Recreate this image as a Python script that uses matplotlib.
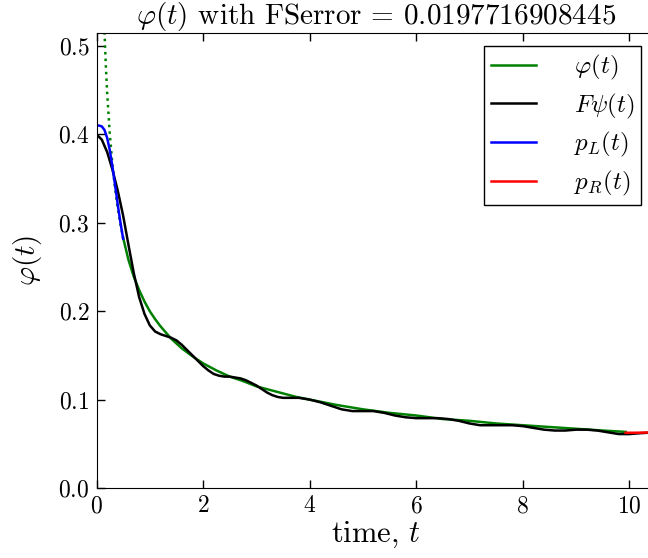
import matplotlib
matplotlib.use("Agg")
import matplotlib.pyplot as plt

plt.rcParams['font.family'] = 'serif'
plt.rcParams['font.serif'] = ['cmr10']
plt.rcParams['mathtext.fontset'] = 'cm'
plt.rcParams['axes.formatter.use_mathtext'] = True
plt.rcParams['xtick.direction'] = 'in'
plt.rcParams['ytick.direction'] = 'in'
plt.rcParams['xtick.top'] = True
plt.rcParams['ytick.right'] = True

# ---- data ----
phi_dot_t = [0.13, 0.15, 0.175, 0.2, 0.25, 0.3, 0.35, 0.4, 0.45, 0.5]
phi_dot_y = [0.555, 0.516, 0.478, 0.447, 0.400, 0.365, 0.338, 0.316, 0.298, 0.283]

phi_t = [0.5, 0.6, 0.7, 0.8, 0.9, 1.0, 1.1, 1.2, 1.3, 1.4, 1.6, 1.8, 2.0, 2.25, 2.5,
         2.75, 3.0, 3.25, 3.5, 3.75, 4.0, 4.5, 5.0, 5.5, 6.0, 6.5, 7.0, 7.5, 8.0,
         8.5, 9.0, 9.5, 9.93]
phi_y = [0.283, 0.258, 0.239, 0.224, 0.211, 0.200, 0.191, 0.183, 0.176, 0.169, 0.158,
         0.149, 0.141, 0.133, 0.126, 0.121, 0.115, 0.111, 0.107, 0.103, 0.100, 0.094,
         0.089, 0.085, 0.082, 0.078, 0.076, 0.073, 0.071, 0.069, 0.067, 0.065, 0.0635]

fpsi_t = [0.0, 0.1, 0.2, 0.3, 0.4, 0.5, 0.6, 0.7, 0.8, 0.9, 1.0, 1.1, 1.2, 1.3, 1.4,
          1.5, 1.6, 1.7, 1.8, 1.9, 2.0, 2.1, 2.2, 2.3, 2.4, 2.5, 2.6, 2.7, 2.8, 2.9,
          3.0, 3.1, 3.2, 3.3, 3.4, 3.5, 3.6, 3.7, 3.8, 3.9, 4.0, 4.2, 4.4, 4.6, 4.8,
          5.0, 5.2, 5.4, 5.6, 5.8, 6.0, 6.2, 6.4, 6.6, 6.8, 7.0, 7.2, 7.4, 7.6, 7.8,
          8.0, 8.2, 8.4, 8.6, 8.8, 9.0, 9.2, 9.4, 9.6, 9.8, 10.0, 10.2, 10.5]
fpsi_y = [0.400, 0.394, 0.380, 0.360, 0.336, 0.308, 0.275, 0.243, 0.216, 0.197, 0.184,
          0.177, 0.174, 0.172, 0.170, 0.167, 0.162, 0.156, 0.150, 0.144, 0.138, 0.133,
          0.129, 0.127, 0.126, 0.126, 0.125, 0.124, 0.122, 0.119, 0.116, 0.112, 0.108,
          0.105, 0.103, 0.102, 0.102, 0.102, 0.102, 0.101, 0.100, 0.097, 0.093, 0.089,
          0.087, 0.087, 0.087, 0.085, 0.082, 0.080, 0.079, 0.079, 0.079, 0.078, 0.076,
          0.073, 0.071, 0.071, 0.071, 0.071, 0.070, 0.068, 0.066, 0.065, 0.065, 0.066,
          0.066, 0.065, 0.063, 0.061, 0.061, 0.062, 0.063]

pL_t = [0.0, 0.05, 0.1, 0.15, 0.2, 0.25, 0.3, 0.35, 0.4, 0.45, 0.5]
pL_y = [0.410, 0.410, 0.409, 0.405, 0.396, 0.382, 0.363, 0.342, 0.320, 0.300, 0.282]

pR_t = [9.93, 10.1, 10.3, 10.5]
pR_y = [0.0625, 0.0625, 0.0627, 0.0630]

xticks = [0, 2, 4, 6, 8, 10]
yticks = [0.0, 0.1, 0.2, 0.3, 0.4, 0.5]

fig = plt.figure(figsize=(6.48, 5.58), dpi=100)
ax = fig.add_axes([96.5/648, 1-488/558, (656-96.5)/648, (488-33)/558])

lw = 1.8
ax.plot(phi_dot_t, phi_dot_y, color='green', ls=':', lw=lw)
ax.plot(phi_t, phi_y, color='green', lw=lw, label=r'$\varphi(t)$')
ax.plot(fpsi_t, fpsi_y, color='black', lw=lw, label=r'$F\psi(t)$')
ax.plot(pL_t, pL_y, color='blue', lw=lw, label=r'$p_L(t)$')
ax.plot(pR_t, pR_y, color='red', lw=lw, label=r'$p_R(t)$')

ax.set_xlim(0, 10.5)
ax.set_ylim(0, 0.5147)
ax.set_xticks(xticks)
ax.set_yticks(yticks)
ax.tick_params(labelsize=17, length=6, width=1, pad=5)

ax.set_title(r'$\varphi(t)$ with FSerror = 0.0197716908445', fontsize=21, pad=0)
ax.set_xlabel(r'time, $t$', fontsize=22, labelpad=2)
ax.set_ylabel(r'$\varphi(t)$', fontsize=21, labelpad=10)

leg = ax.legend(loc='upper right', bbox_to_anchor=(641/648, 1-46/558),
                bbox_transform=fig.transFigure, borderaxespad=0,
                fontsize=18, fancybox=False, framealpha=1, edgecolor='black',
                handlelength=1.8, handletextpad=1.5, labelspacing=0.38, borderpad=0.28)
leg.get_frame().set_linewidth(1)

fig.savefig('out.png', dpi=100)
